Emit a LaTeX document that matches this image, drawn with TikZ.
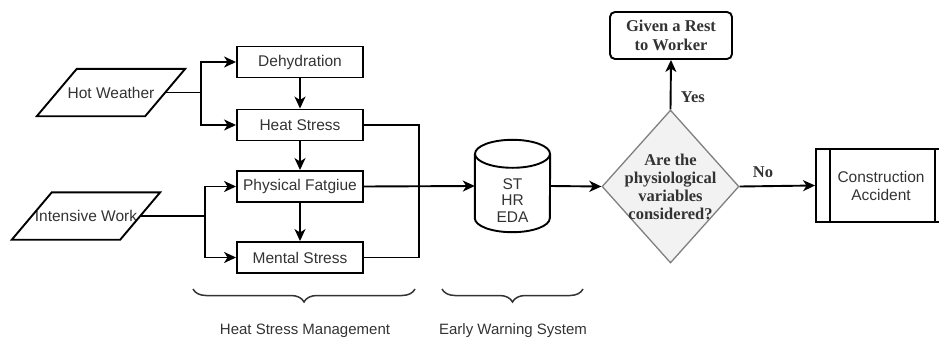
\documentclass[tikz,border=0pt]{standalone}
\usepackage{fontspec}
\setmainfont{Liberation Sans}
\newfontfamily\serifbold{Liberation Serif}
\usetikzlibrary{arrows.meta,shapes.geometric,decorations.pathreplacing,calc}

\definecolor{inkgray}{HTML}{333333}
\definecolor{decfill}{HTML}{F2F2F2}
\definecolor{decline}{HTML}{808080}

\tikzset{
  lw/.style={line width=1.9pt},
  boxtext/.style={font=\fontsize{15.5}{18}\selectfont, text=inkgray},
  stepbox/.style={draw, lw, minimum width=126pt, minimum height=31pt, inner sep=0pt, boxtext},
  iobody/.style={minimum width=148pt, minimum height=47pt, inner sep=0pt, boxtext},
  serifnote/.style={font=\serifbold\bfseries\fontsize{16.5}{19}\selectfont, text=inkgray, align=center},
  arr/.style={lw, -{Stealth[length=12pt, width=11pt, inset=3.5pt]}},
  link/.style={lw},
  bracestyle/.style={line width=1.5pt, draw=inkgray,
    decorate, decoration={brace, mirror, amplitude=13pt}},
}

\begin{document}
\begin{tikzpicture}[x=1pt, y=-1pt]
\useasboundingbox (0,0) rectangle (939,345);

% inputs (parallelograms slanted by 40pt)
\node[iobody] (hot) at (111,92.5) {Hot Weather};
\draw[lw] ($(hot.north west)+(40,0)$) -- (hot.north east)
  -- ($(hot.south east)+(-40,0)$) -- (hot.south west) -- cycle;
\node[iobody] (work) at (86,216) {Intensive Work};
\draw[lw] ($(work.north west)+(40,0)$) -- (work.north east)
  -- ($(work.south east)+(-40,0)$) -- (work.south west) -- cycle;

% stress chain
\node[stepbox] (dehyd)  at (300,62)    {Dehydration};
\node[stepbox] (heat)   at (300,125)   {Heat Stress};
\node[stepbox] (phys)   at (300,186.5) {Physical Fatgiue};
\node[stepbox] (mental) at (300,257.5) {Mental Stress};

% early warning store
\node[minimum width=75pt, minimum height=92pt, inner sep=0pt] (db) at (512.5,186) {};
\draw[lw] (db.north) ++(0,14) ellipse [x radius=37.5, y radius=14];
\draw[lw] ($(db.north west)+(0,14)$) -- ($(db.south west)+(0,-14)$)
  arc[start angle=180, end angle=0, x radius=37.5, y radius=14]
  -- ($(db.north east)+(0,14)$);
\node[boxtext, align=center, font=\fontsize{15.5}{16.5}\selectfont] (dbtext) at (512.5,200.5) {ST\\HR\\EDA};

% decision
\node[diamond, draw=decline, fill=decfill, line width=1.3pt, minimum width=137pt,
  minimum height=153pt, inner sep=0pt] (dec) at (670.5,186.5) {};
\node[serifnote, font=\serifbold\bfseries\fontsize{16.5}{17.8}\selectfont] (dectext) at (670.5,187)
  {Are the\\physiological\\variables\\considered?};

% outcomes
\node[draw, lw, rounded corners=5pt, minimum width=122pt, minimum height=47pt,
  inner sep=0pt, serifnote] (rest) at (671,35.5) {Given a Rest\\to Worker};
\node[draw, lw, minimum width=133pt, minimum height=73pt, inner sep=0pt,
  boxtext, align=center, font=\fontsize{15.5}{18}\selectfont] (acc) at (882.5,185.5)
  {\hspace*{-3pt}Construction\\\hspace*{-3pt}Accident};
\draw[lw] ($(acc.north west)+(15,0)$) -- ($(acc.south west)+(15,0)$);
\draw[lw] ($(acc.north east)+(-15,0)$) -- ($(acc.south east)+(-15,0)$);

% junctions and the inputs' right-side midpoints
\coordinate (hotout) at ($(hot.east)+(-20,0)$);
\coordinate (workout) at ($(work.east)+(-20,0)$);
\coordinate (hj) at (201,92.5);
\coordinate (wj) at (205,216);
\coordinate (cj) at (419,186.5);

% connectors
\draw[link] (hotout) -- (hj);
\draw[arr] (hj) |- (dehyd.west);
\draw[arr] (hj) |- (heat.west);
\draw[link] (workout) -- (wj);
\draw[arr] (wj) |- (phys.west);
\draw[arr] (wj) |- (mental.west);

\draw[arr] (dehyd.south) -- (heat.north);
\draw[arr] (heat.south) -- (phys.north);
\draw[arr] (phys.south) -- (mental.north);

\draw[link] (heat.east) -| (cj);
\draw[link] (mental.east) -| (cj);
\draw[arr] (phys.east) -- (db.west);

\draw[arr] (db.east) -- (dec.west);
\draw[arr] (dec.north) -- (rest.south)
  node[pos=0.24, right=6pt, serifnote] (yes) {Yes};
\draw[arr] (dec.east) -- (acc.west)
  node[pos=0.31, above=4pt, serifnote] (no) {No};

% groupings
\coordinate (b1l) at (193,289);
\coordinate (b1r) at (415,289);
\coordinate (b2l) at (442,289);
\coordinate (b2r) at (583,289);
\draw[bracestyle] (b1l) -- (b1r);
\draw[bracestyle] (b2l) -- (b2r);
\node[boxtext, font=\fontsize{15}{17}\selectfont] (hsm) at (305,331) {Heat Stress Management};
\node[boxtext, font=\fontsize{15}{17}\selectfont] (ews) at (513,331) {Early Warning System};
\end{tikzpicture}
\end{document}
